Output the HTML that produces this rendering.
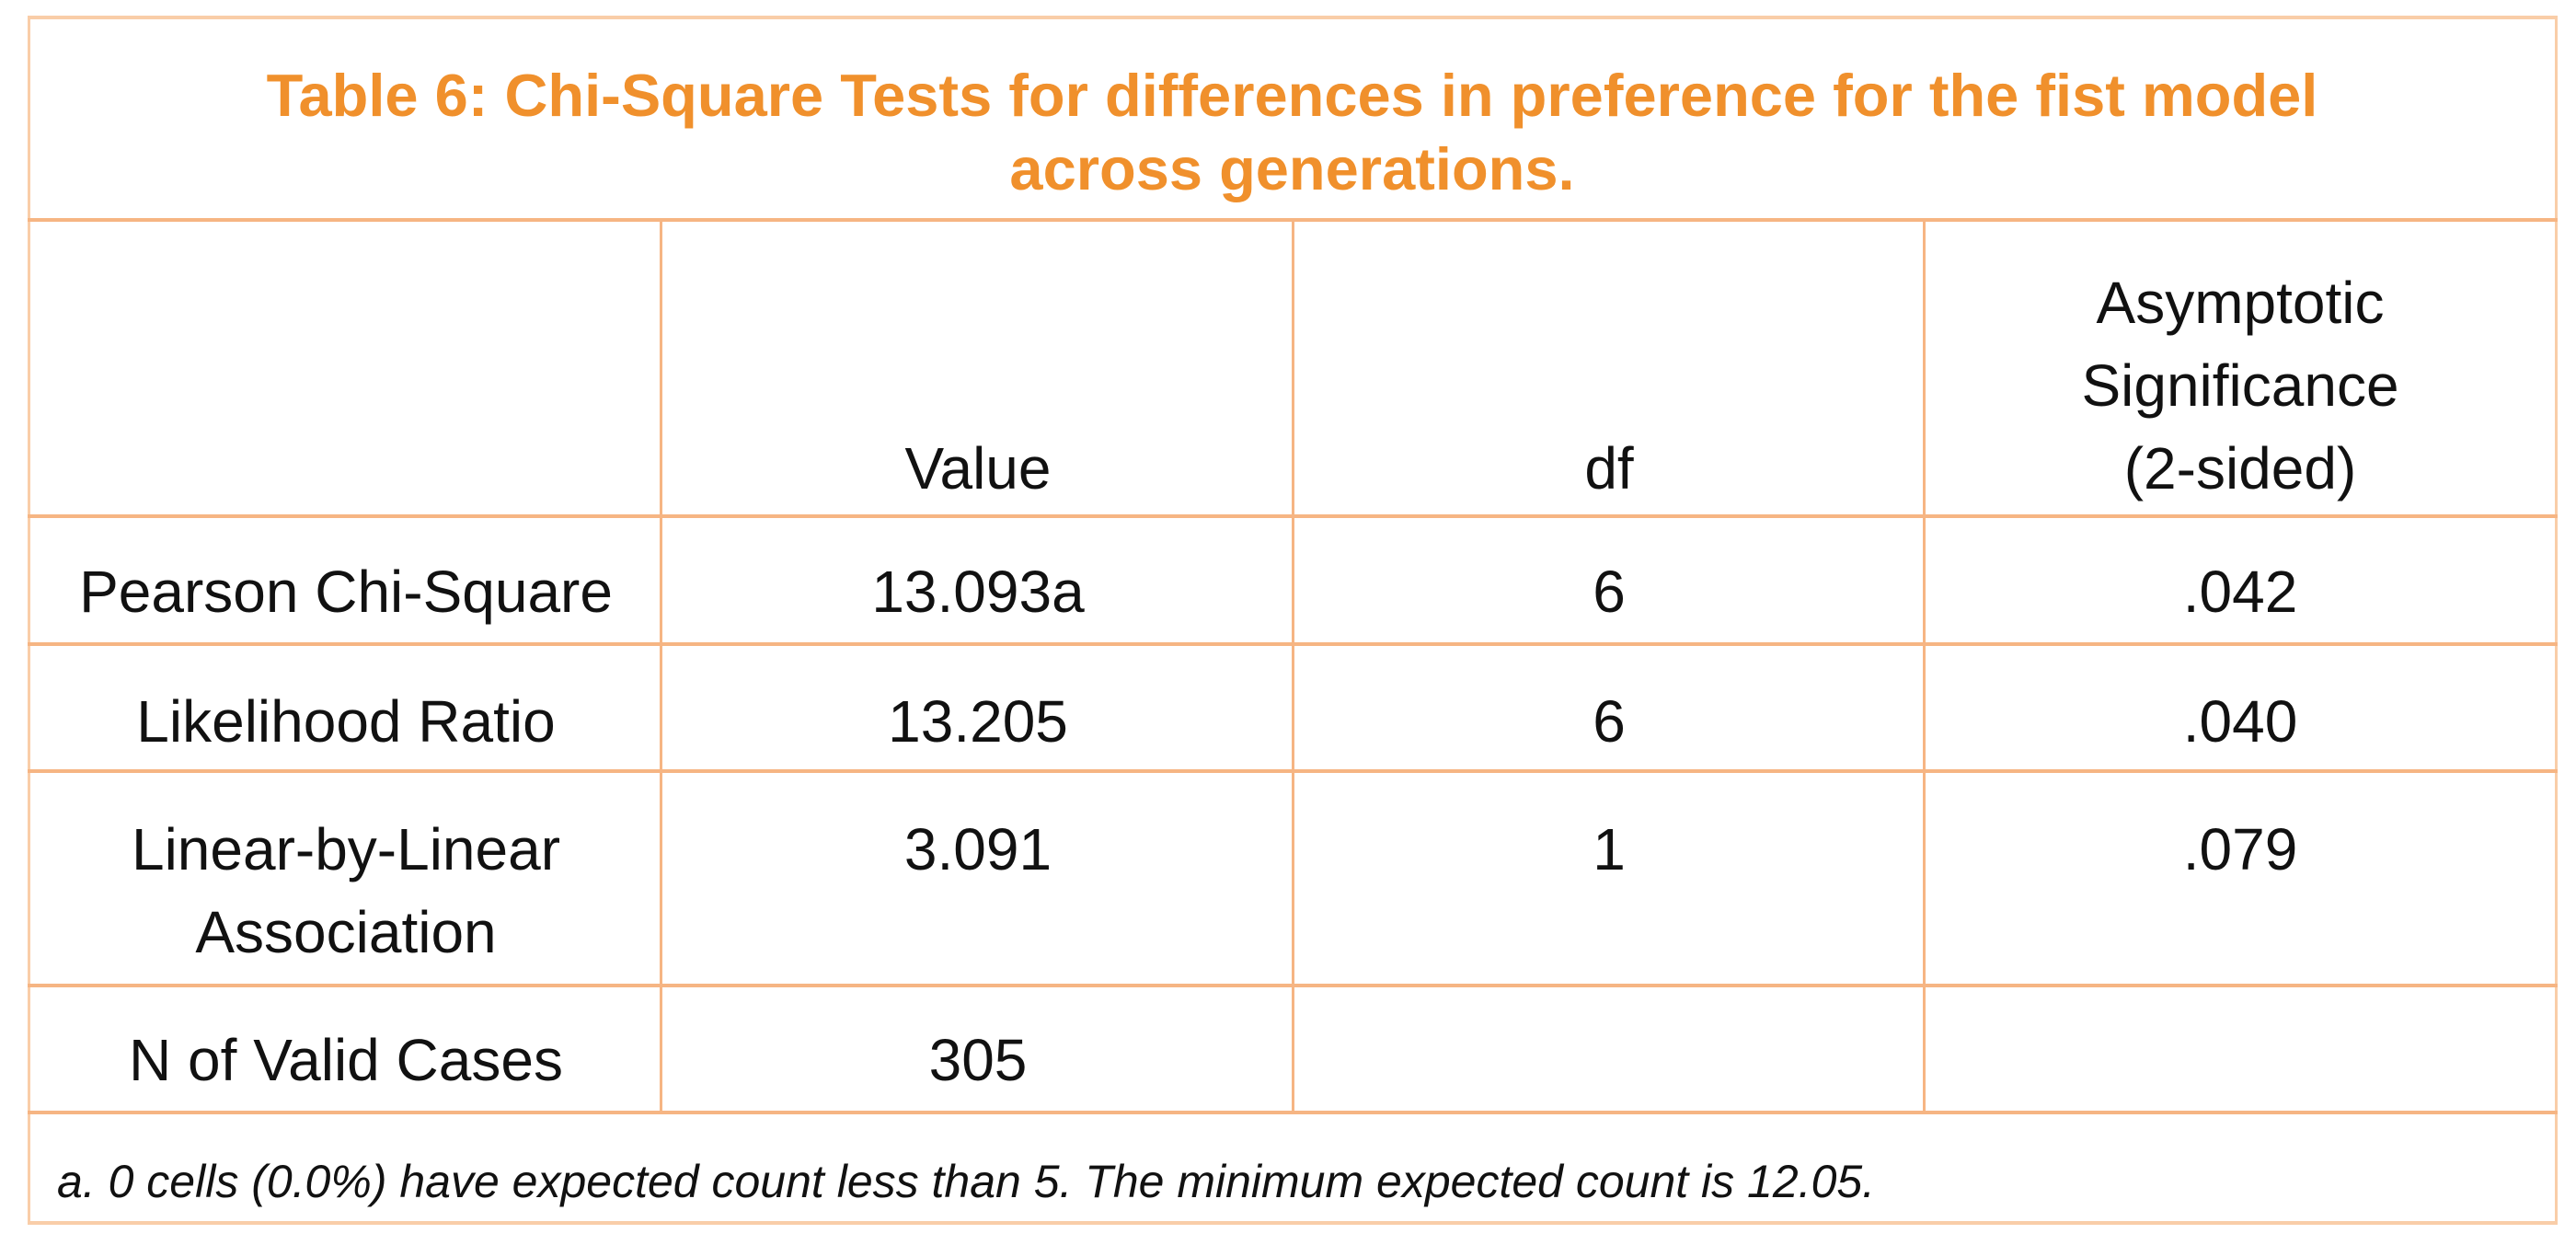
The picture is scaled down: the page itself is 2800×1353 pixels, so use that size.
<!DOCTYPE html>
<html><head><meta charset="utf-8"><style>
*{margin:0;padding:0;box-sizing:border-box}
body{width:2800px;height:1353px;background:#fff;position:relative;overflow:hidden;font-family:"Liberation Sans",sans-serif;color:#111}
.h{position:absolute;height:4px;background:#f6b583}
.v{position:absolute;width:3px;background:#f6b583}
.t{position:absolute;text-align:center;font-size:64px;line-height:90px;transform:translateY(-50%)}
.title{position:absolute;left:32px;width:2745px;top:64px;text-align:center;color:#f0902c;font-weight:bold;font-size:65px;line-height:80px}
.foot{position:absolute;left:62px;top:1284px;transform:translateY(-50%);font-style:italic;font-size:50px}
</style></head><body>
<div class="h" style="left:30px;width:2750px;top:17px;background:#f9cda8"></div>
<div class="h" style="left:30px;width:2750px;top:1327px;background:#f9cda8"></div>
<div class="v" style="left:30px;top:17px;height:1314px;background:#f9cda8"></div>
<div class="v" style="left:2777px;top:17px;height:1314px;background:#f9cda8"></div>
<div class="h" style="left:30px;width:2750px;top:237px"></div>
<div class="h" style="left:30px;width:2750px;top:559px"></div>
<div class="h" style="left:30px;width:2750px;top:698px"></div>
<div class="h" style="left:30px;width:2750px;top:836px"></div>
<div class="h" style="left:30px;width:2750px;top:1069px"></div>
<div class="h" style="left:30px;width:2750px;top:1207px"></div>
<div class="v" style="left:717px;top:239px;height:970px"></div>
<div class="v" style="left:1404px;top:239px;height:970px"></div>
<div class="v" style="left:2090px;top:239px;height:970px"></div>
<div class="title">Table 6: Chi-Square Tests for differences in preference for the fist model<br>across generations.</div>
<div class="t" style="left:720px;width:686px;top:509px">Value</div>
<div class="t" style="left:1406px;width:686px;top:509px">df</div>
<div class="t" style="left:2092px;width:686px;top:419px">Asymptotic<br>Significance<br>(2-sided)</div>
<div class="t" style="left:32px;width:688px;top:643px">Pearson Chi-Square</div>
<div class="t" style="left:720px;width:686px;top:643px">13.093a</div>
<div class="t" style="left:1406px;width:686px;top:643px">6</div>
<div class="t" style="left:2092px;width:686px;top:643px">.042</div>
<div class="t" style="left:32px;width:688px;top:784px">Likelihood Ratio</div>
<div class="t" style="left:720px;width:686px;top:784px">13.205</div>
<div class="t" style="left:1406px;width:686px;top:784px">6</div>
<div class="t" style="left:2092px;width:686px;top:784px">.040</div>
<div class="t" style="left:32px;width:688px;top:968px">Linear-by-Linear<br>Association</div>
<div class="t" style="left:720px;width:686px;top:923px">3.091</div>
<div class="t" style="left:1406px;width:686px;top:923px">1</div>
<div class="t" style="left:2092px;width:686px;top:923px">.079</div>
<div class="t" style="left:32px;width:688px;top:1152px">N of Valid Cases</div>
<div class="t" style="left:720px;width:686px;top:1152px">305</div>
<div class="foot">a. 0 cells (0.0%) have expected count less than 5. The minimum expected count is 12.05.</div>
</body></html>
